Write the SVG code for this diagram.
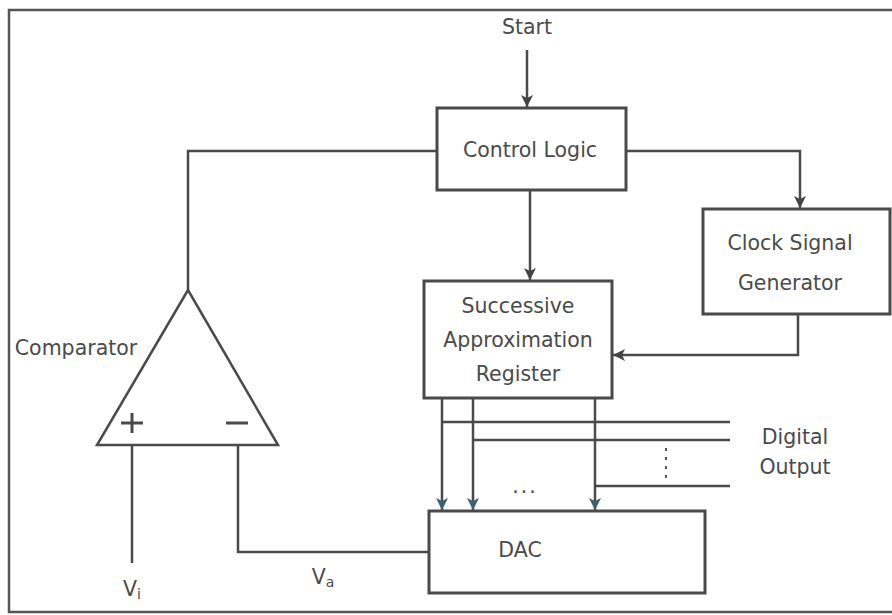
<svg xmlns="http://www.w3.org/2000/svg" width="892" height="615" viewBox="0 0 892 615">
<style>
.box{fill:#fff;stroke:#4a4a4a;stroke-width:3}
.ln{fill:none;stroke:#4a4a4a;stroke-width:2.5}
.t{font-family:"DejaVu Sans",Verdana,sans-serif;font-size:20.5px;fill:#4a4a4a;text-anchor:middle}
</style>
<defs>
<marker id="a" viewBox="0 0 12 12" refX="12" refY="6" markerWidth="12" markerHeight="12" orient="auto" markerUnits="userSpaceOnUse">
<path d="M0,0 L12,6 L0,12 L3,6 z" fill="#444"/>
</marker>
<marker id="ab" viewBox="0 0 12 12" refX="12" refY="6" markerWidth="12" markerHeight="12" orient="auto" markerUnits="userSpaceOnUse">
<path d="M0,0 L12,6 L0,12 L3,6 z" fill="#3d5f70"/>
</marker>
</defs>
<rect width="892" height="615" fill="#fff"/>
<path d="M892,10 H9 V612 H892" fill="none" stroke="#555" stroke-width="2.5"/>
<g id="connectors">
<path class="ln" d="M527,50 V107" marker-end="url(#a)"/>
<path class="ln" d="M437,151 H188 V290"/>
<path class="ln" d="M626,151 H800 V208" marker-end="url(#a)"/>
<path class="ln" d="M530,190 V280" marker-end="url(#a)"/>
<path class="ln" d="M798,314 V355 H613" marker-end="url(#a)"/>
<path class="ln" d="M442,399 V510" marker-end="url(#ab)"/>
<path class="ln" d="M473,399 V510" marker-end="url(#ab)"/>
<path class="ln" d="M595,399 V510" marker-end="url(#ab)"/>
<path class="ln" d="M442,422 H730"/>
<path class="ln" d="M473,440 H730"/>
<path class="ln" d="M595,486 H730"/>
<path d="M666,448 V478" fill="none" stroke="#555" stroke-width="2" stroke-dasharray="3,6"/>
<path class="ln" d="M132,446 V563"/>
<path class="ln" d="M238,446 V552 H429"/>
</g>
<g id="start"><text class="t" x="527" y="34">Start</text></g>
<g id="control-logic">
<rect class="box" x="437" y="108" width="189" height="82"/>
<text class="t" x="530" y="157">Control Logic</text>
</g>
<g id="clock">
<rect class="box" x="703" y="209" width="187" height="105"/>
<text class="t" x="790" y="250">Clock Signal</text>
<text class="t" x="790" y="290">Generator</text>
</g>
<g id="sar">
<rect class="box" x="424" y="281" width="188" height="117"/>
<text class="t" x="518" y="313">Successive</text>
<text class="t" x="518" y="347">Approximation</text>
<text class="t" x="518" y="381">Register</text>
</g>
<g id="comparator">
<path d="M188,290 L97,445 H278 Z" fill="#fff" stroke="#4a4a4a" stroke-width="2.5"/>
<path d="M121,423 H143 M132,413 V433 M226,423 H248" stroke="#4a4a4a" stroke-width="3" fill="none"/>
<text class="t" x="76" y="355">Comparator</text>
</g>
<g id="dac">
<rect class="box" x="429" y="511" width="276" height="82"/>
<text class="t" x="520" y="557">DAC</text>
</g>
<g id="dots"><text class="t" x="525" y="493" letter-spacing="2">...</text></g>
<g id="digital-output">
<text class="t" x="795" y="444">Digital</text>
<text class="t" x="795" y="474">Output</text>
</g>
<g id="vi"><text class="t" x="132" y="596">V<tspan font-size="14" dy="3">i</tspan></text></g>
<g id="va"><text class="t" x="323" y="584">V<tspan font-size="14" dy="3">a</tspan></text></g>
</svg>
